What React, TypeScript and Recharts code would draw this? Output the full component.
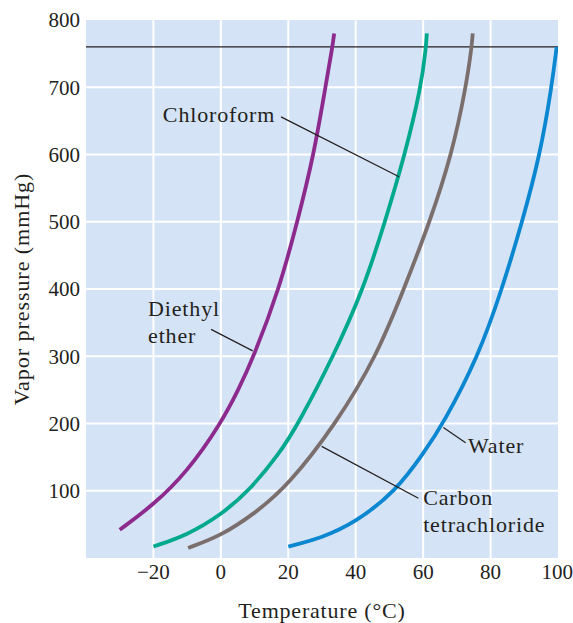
import * as React from "react";
import {
  LineChart,
  Line,
  XAxis,
  YAxis,
  CartesianGrid,
  ReferenceLine,
  ReferenceDot,
} from "recharts";

// temperatures (°C) and vapour pressures (mmHg)
const etherT = [-30, -20, -10, 0, 5.2, 9.8, 17.3, 22.7, 27.6, 31, 33.1, 33.6];
const etherP = [42, 79, 128, 200, 250, 300, 400, 500, 600, 700, 760, 780];

const chloroformT = [-20, -10, 0, 8.4, 17.5, 23, 33.4, 42.3, 48.7, 54.6, 59.4, 60.85, 61.1];
const chloroformP = [17, 34, 64, 100, 156, 200, 300, 400, 500, 600, 700, 760, 780];

const ccl4T = [-9.7, 0, 10, 20, 34.2, 46.2, 54.3, 62, 68.5, 72.7, 74.4, 74.7];
const ccl4P = [15, 33, 66, 108, 200, 300, 400, 500, 600, 700, 760, 780];

const waterT = [20, 30, 40, 52, 60, 66, 76.4, 83.4, 89.4, 94.7, 98.1, 99.6];
const waterP = [17, 30, 53, 100, 155, 200, 300, 400, 500, 600, 700, 760];

const xTicks = [-20, 0, 20, 40, 60, 80, 100];
const yTicks = [100, 200, 300, 400, 500, 600, 700, 760, 800];
const xGrid = [-20, 0, 20, 40, 60, 80];
const yGrid = [100, 200, 300, 400, 500, 600, 700];
const atmosphere = 760;

// curve labels: text lines, anchor (left edge / first baseline) and leader line
const labelLines = [["Chloroform"], ["Diethyl", "ether"], ["Water"], ["Carbon", "tetrachloride"]];
const labelAnchors = [
  [-17.2, 648],
  [-21.6, 360],
  [73.3, 156],
  [60, 79],
];
const leaders = [
  [17.85, 656, 52.85, 567],
  [-2.9, 340, 9.45, 308],
  [66.0, 194, 72.6, 171.5],
  [29.9, 166, 58.6, 88.8],
];

const toPoints = (ts: number[], ps: number[]) => ts.map((t, i) => ({ t, p: ps[i] }));

const series = [
  { name: "Diethyl ether", data: toPoints(etherT, etherP), color: "#8d2a8e" },
  { name: "Chloroform", data: toPoints(chloroformT, chloroformP), color: "#00a98d" },
  { name: "Carbon tetrachloride", data: toPoints(ccl4T, ccl4P), color: "#7b6f6e" },
  { name: "Water", data: toPoints(waterT, waterP), color: "#0a87d0" },
];

const FONT = "'Liberation Serif', 'Times New Roman', serif";
const INK = "#231f20";

const fmtTick = (v: number) => (v < 0 ? `\u2212${Math.abs(v)}` : `${v}`);

const curveLabel = (lines: string[]) => (props: any) => {
  const vb = props.viewBox || {};
  const x = vb.x + (vb.width || 0) / 2;
  const y = vb.y + (vb.height || 0) / 2;
  return (
    <text
      x={x}
      y={y}
      fill={INK}
      fontFamily={FONT}
      fontSize={22}
      letterSpacing={0.85}
      textAnchor="start"
    >
      {lines.map((l, i) => (
        <tspan key={i} x={x} dy={i === 0 ? 0 : 27}>
          {l}
        </tspan>
      ))}
    </text>
  );
};

const xTitle = (props: any) => {
  const vb = props.viewBox;
  return (
    <text
      x={vb.x + vb.width / 2}
      y={618}
      textAnchor="middle"
      fill={INK}
      fontFamily={FONT}
      fontSize={22}
      letterSpacing={0.8}
    >
      Temperature (°C)
    </text>
  );
};

const yTitle = (props: any) => {
  const vb = props.viewBox;
  const cy = vb.y + vb.height / 2;
  return (
    <text
      x={29}
      y={cy}
      transform={`rotate(-90 29 ${cy})`}
      textAnchor="middle"
      fill={INK}
      fontFamily={FONT}
      fontSize={22}
      letterSpacing={0.95}
    >
      Vapor pressure (mmHg)
    </text>
  );
};

export default function App() {
  const tickStyle = { fill: INK, fontFamily: FONT, fontSize: 21 };
  return (
    <div style={{ position: "absolute", left: 0, top: 0, width: 573, height: 623, background: "#fff" }}>
      <LineChart width={573} height={623} margin={{ top: 20, right: 15, bottom: 35, left: 36 }}>
        <CartesianGrid
          fill="#d4e3f5"
          fillOpacity={1}
          stroke="#ffffff"
          strokeWidth={2}
          horizontalValues={yGrid}
          verticalValues={xGrid}
        />
        <XAxis
          type="number"
          dataKey="t"
          domain={[-40, 100]}
          ticks={xTicks}
          tickFormatter={fmtTick}
          allowDataOverflow
          axisLine={false}
          tickLine={false}
          tickSize={4}
          tickMargin={2}
          height={30}
          tick={tickStyle}
          label={{ content: xTitle }}
        />
        <YAxis
          type="number"
          dataKey="p"
          domain={[0, 800]}
          ticks={yTicks}
          allowDataOverflow
          axisLine={false}
          tickLine={false}
          tickSize={4}
          tickMargin={2}
          width={50}
          tick={tickStyle}
          label={{ content: yTitle }}
        />
        <ReferenceLine y={atmosphere} stroke={INK} strokeWidth={1.4} />
        {series.map((s) => (
          <Line
            key={s.name}
            data={s.data}
            dataKey="p"
            type="basis"
            stroke={s.color}
            strokeWidth={3.8}
            dot={false}
            activeDot={false}
            isAnimationActive={false}
          />
        ))}
        {leaders.map((l, i) => (
          <ReferenceLine
            key={`leader-${i}`}
            segment={[
              { x: l[0], y: l[1] },
              { x: l[2], y: l[3] },
            ]}
            stroke={INK}
            strokeWidth={1.2}
          />
        ))}
        {labelLines.map((lines, i) => (
          <ReferenceDot
            key={`label-${i}`}
            x={labelAnchors[i][0]}
            y={labelAnchors[i][1]}
            r={2}
            fill="none"
            stroke="none"
            label={{ content: curveLabel(lines) }}
          />
        ))}
      </LineChart>
    </div>
  );
}
